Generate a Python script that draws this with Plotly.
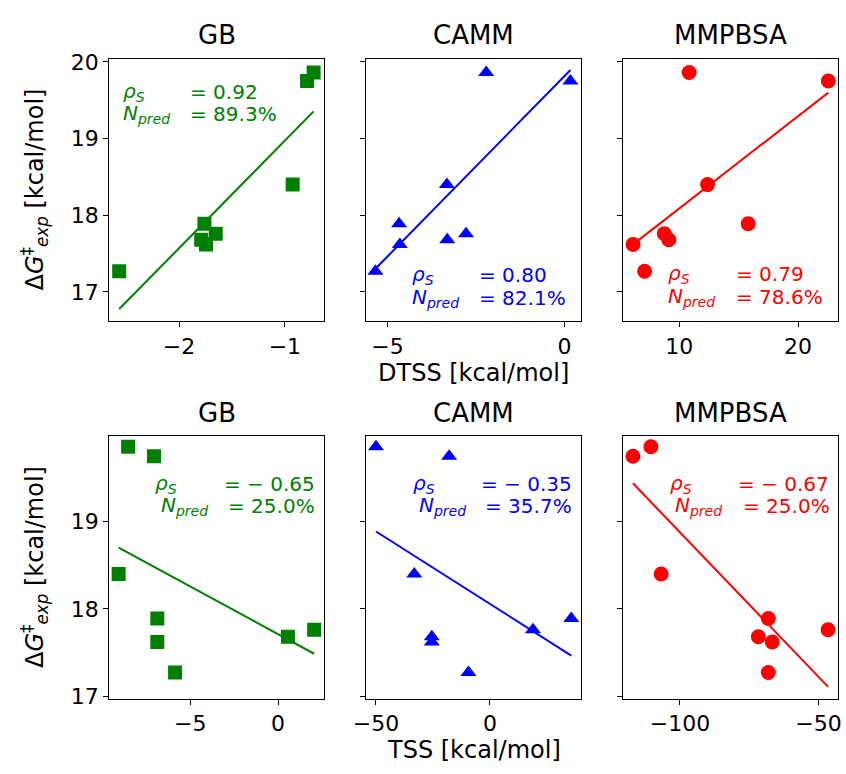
import numpy as np
import plotly.graph_objects as go

W, H = 846, 774

# ---- data ----
dg_exp = [17.27, 17.62, 17.68, 17.76, 17.89, 18.40, 19.75, 19.86]
dtss_gb = [-2.565, -1.745, -1.79, -1.653, -1.76, -0.926, -0.79, -0.728]
dtss_camm = [-5.34, -4.65, -3.31, -2.78, -4.67, -3.32, 0.17, -2.21]
dtss_mmpbsa = [7.08, 6.11, 9.12, 8.74, 15.80, 12.38, 22.55, 10.83]
tss_gb = [-5.86, -6.87, 0.56, 2.05, -6.87, -9.07, -7.06, -8.53]
tss_camm = [-9.4, -25.5, -25.5, 18.9, 35.7, -33.2, -17.9, -50.0]
tss_mmpbsa = [-68.1, -66.7, -71.7, -46.5, -68.1, -106.8, -117.0, -110.5]
methods = ["GB", "CAMM", "MMPBSA"]
rho_s = [["0.92", "0.80", "0.79"], ["\u2212 0.65", "\u2212 0.35", "\u2212 0.67"]]
n_pred = [["89.3%", "82.1%", "78.6%"], ["25.0%", "35.7%", "25.0%"]]
x_labels = ["DTSS [kcal/mol]", "TSS [kcal/mol]"]

# ---- styling ----
colors = ["#008000", "#0000ff", "#ff0000"]
symbols = ["square", "triangle-up", "circle"]
msizes = [14, 14, 15]
FONT = "DejaVu Sans"

cols_px = [(98, 317), (360, 579), (622, 841)]
rows_px = [(51, 320), (438, 707)]
xranges = [[[-2.66, -0.63], [-5.6, 0.47], [5.28, 23.37]],
           [[-9.61, 2.61], [-54.3, 40.0], [-120.5, -42.9]]]
dticks = [[1, 5, 10], [5, 50, 50]]
yranges = [[16.62, 20.04], [16.97, 19.98]]
ytick0 = [[17, 18, 19, 20], [17, 18, 19]]

# annotation pixel positions: (label_x row1, label_x row2, eq_x row1, eq_x row2, y row1, y row2)
ann_px = [
    [(110, 110, 178, 178, 85, 108), (405, 405, 473, 473, 273, 296), (666, 666, 735, 735, 272, 295)],
    [(143, 149, 213, 217, 487, 510), (406, 412, 475, 479, 487, 510), (668, 673, 737, 742, 487, 510)],
]

data_x = [[dtss_gb, dtss_camm, dtss_mmpbsa], [tss_gb, tss_camm, tss_mmpbsa]]

def px2x(p):
    return p / W

def px2y(p):
    return 1 - p / H

fig = go.Figure()
layout = dict(
    width=W, height=H, margin=dict(l=0, r=0, t=0, b=0),
    paper_bgcolor="white", plot_bgcolor="white", showlegend=False,
    font=dict(family=FONT, color="black"),
)
annotations = []

k = 0
for r in range(2):
    for c in range(3):
        k += 1
        xa = "x" if k == 1 else f"x{k}"
        ya = "y" if k == 1 else f"y{k}"
        xs = np.array(data_x[r][c], dtype=float)
        ys = np.array(dg_exp, dtype=float)
        fig.add_trace(go.Scatter(
            x=xs, y=ys, mode="markers", xaxis=xa, yaxis=ya,
            marker=dict(symbol=symbols[c], size=msizes[c], color=colors[c], line=dict(width=0)),
        ))
        m, b = np.polyfit(xs, ys, 1)
        lx = np.array([xs.min(), xs.max()])
        fig.add_trace(go.Scatter(
            x=lx, y=m * lx + b, mode="lines", xaxis=xa, yaxis=ya,
            line=dict(color=colors[c], width=2),
        ))
        axcommon = dict(showline=True, mirror=True, linecolor="black", linewidth=1,
                        ticks="outside", ticklen=5, tickwidth=1, tickcolor="black",
                        showgrid=False, zeroline=False,
                        tickfont=dict(family=FONT, size=22, color="black"))
        layout["xaxis" if k == 1 else f"xaxis{k}"] = dict(
            domain=[px2x(cols_px[c][0]), px2x(cols_px[c][1])],
            range=xranges[r][c], dtick=dticks[r][c], tick0=0,
            anchor=ya, **axcommon)
        layout["yaxis" if k == 1 else f"yaxis{k}"] = dict(
            domain=[px2y(rows_px[r][1]), px2y(rows_px[r][0])],
            range=yranges[r], tickvals=ytick0[r], showticklabels=(c == 0),
            anchor=xa, **axcommon)
        # title
        annotations.append(dict(
            text=methods[c], x=px2x((cols_px[c][0] + cols_px[c][1]) / 2),
            y=px2y(rows_px[r][0] - 24), xref="paper", yref="paper",
            xanchor="center", yanchor="middle", showarrow=False,
            font=dict(family=FONT, size=26, color="black")))
        # stats text
        lx1, lx2, ex1, ex2, y1, y2 = ann_px[r][c]
        f = dict(family=FONT, size=20, color=colors[c])
        annotations.append(dict(text="<i>\u03c1</i><sub><i>S</i></sub>", x=px2x(lx1), y=px2y(y1),
                                xref="paper", yref="paper", xanchor="left", yanchor="middle",
                                showarrow=False, font=f))
        annotations.append(dict(text="= " + rho_s[r][c], x=px2x(ex1), y=px2y(y1),
                                xref="paper", yref="paper", xanchor="left", yanchor="middle",
                                showarrow=False, font=f))
        annotations.append(dict(text="<i>N</i><sub><i>pred</i></sub>", x=px2x(lx2), y=px2y(y2),
                                xref="paper", yref="paper", xanchor="left", yanchor="middle",
                                showarrow=False, font=f))
        annotations.append(dict(text="= " + n_pred[r][c], x=px2x(ex2), y=px2y(y2),
                                xref="paper", yref="paper", xanchor="left", yanchor="middle",
                                showarrow=False, font=f))

# axis labels
for r in range(2):
    annotations.append(dict(
        text="\u0394<i>G</i><sup>\u2021</sup><sub><i>exp</i></sub> [kcal/mol]",
        x=px2x(22), y=px2y((rows_px[r][0] + rows_px[r][1]) / 2), xref="paper", yref="paper",
        xanchor="center", yanchor="middle", textangle=-90, showarrow=False,
        font=dict(family=FONT, size=24, color="black")))
    annotations.append(dict(
        text=x_labels[r], x=px2x((cols_px[1][0] + cols_px[1][1]) / 2),
        y=px2y(rows_px[r][1] + 53), xref="paper", yref="paper",
        xanchor="center", yanchor="middle", showarrow=False,
        font=dict(family=FONT, size=24, color="black")))

layout["annotations"] = annotations
fig.update_layout(**layout)
fig.write_html("out.html",
               config={"displayModeBar": False},
               post_script="document.body.style.margin='0';document.body.style.overflow='hidden';")
